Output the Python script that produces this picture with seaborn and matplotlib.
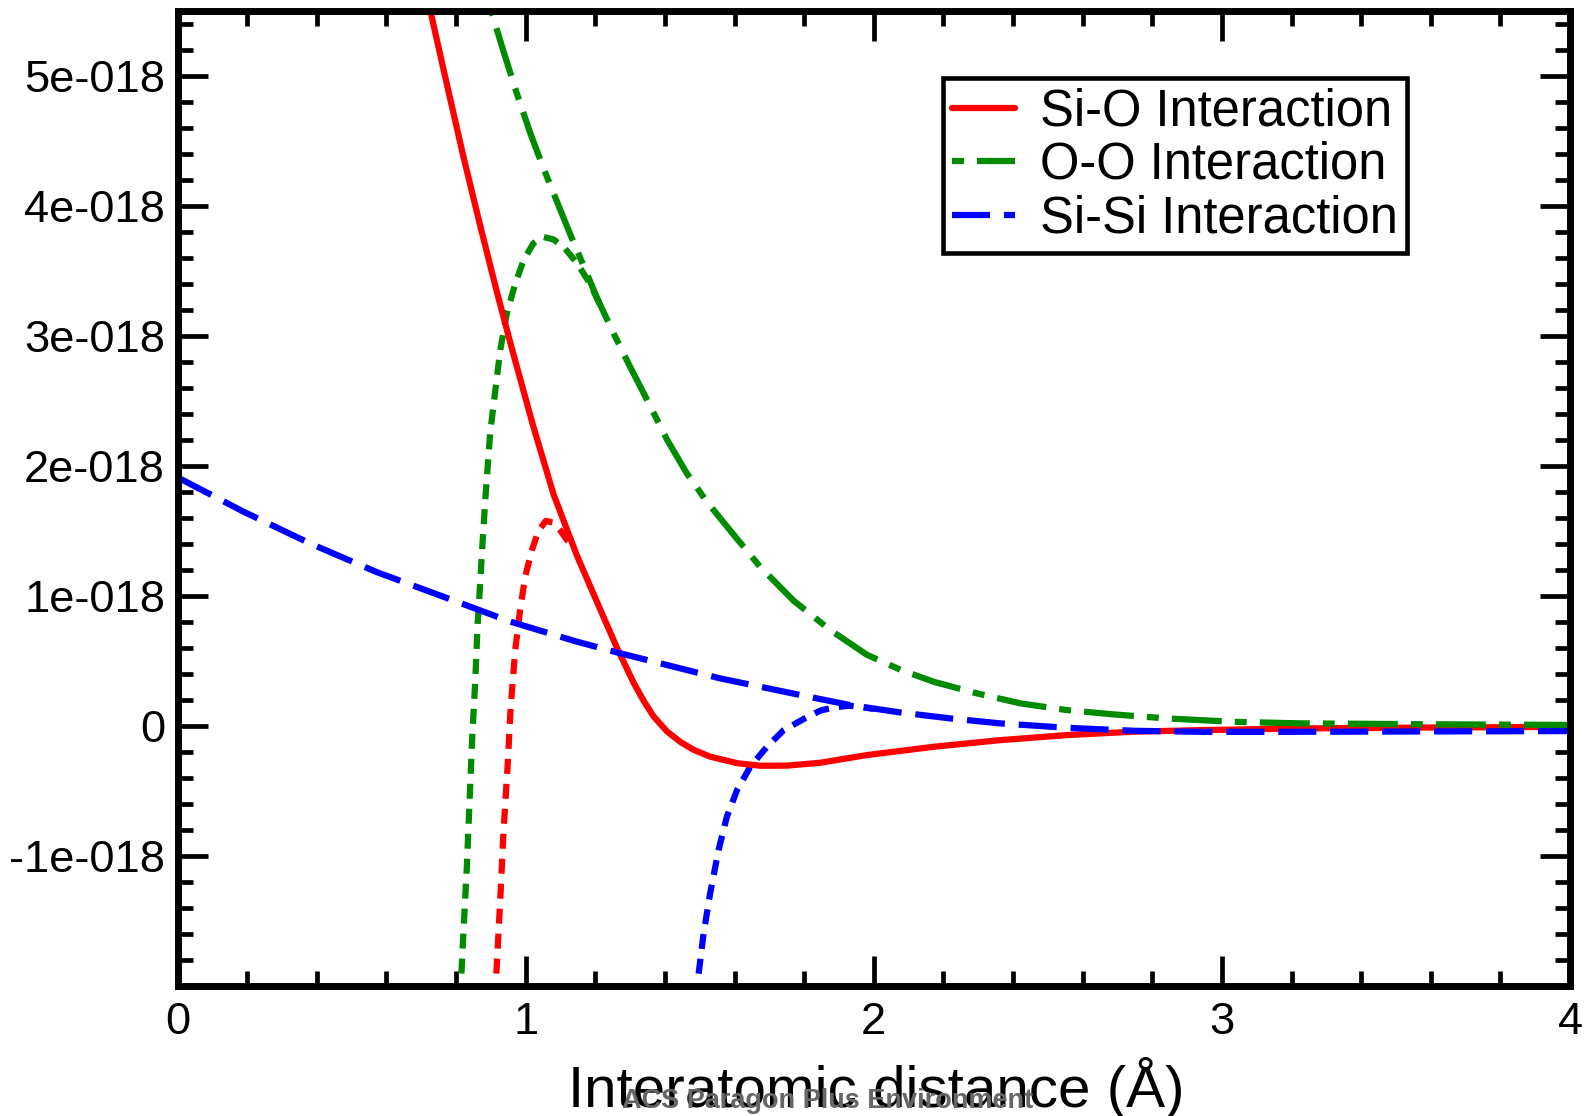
import numpy as np
import matplotlib
matplotlib.use("Agg")
import matplotlib.pyplot as plt
from matplotlib.ticker import FixedLocator, MultipleLocator, FuncFormatter
import seaborn as sns

# Pair interaction energies versus interatomic distance.
# Distances in Å, energies in units of 1e-18 J.
ENERGY_UNIT = 1e-18

si_o_r = [0.722, 0.774, 0.821, 0.869, 0.917, 0.96, 1.02, 1.08, 1.147, 1.205,
          1.262, 1.31, 1.339, 1.367, 1.406, 1.444, 1.482, 1.53, 1.607, 1.674,
          1.751, 1.846, 1.98, 2.172, 2.363, 2.555, 2.747, 2.938, 3.225, 3.6, 4.0]
si_o_e = [5.55, 4.93, 4.38, 3.85, 3.34, 2.905, 2.32, 1.78, 1.31, 0.95,
          0.60, 0.33, 0.19, 0.072, -0.045, -0.125, -0.186, -0.239, -0.289, -0.309,
          -0.308, -0.286, -0.227, -0.163, -0.112, -0.073, -0.047, -0.035, -0.022, -0.015, -0.01]

o_o_r = [0.895, 0.936, 0.975, 1.013, 1.051, 1.09, 1.128, 1.166, 1.205, 1.252,
         1.30, 1.348, 1.406, 1.463, 1.521, 1.597, 1.674, 1.77, 1.875, 1.98,
         2.076, 2.172, 2.296, 2.421, 2.555, 2.689, 2.842, 3.034, 3.225, 3.6, 4.0]
o_o_e = [5.55, 5.19, 4.86, 4.56, 4.29, 4.03, 3.78, 3.54, 3.29, 3.02,
         2.76, 2.51, 2.20, 1.94, 1.72, 1.47, 1.22, 0.96, 0.735, 0.545,
         0.43, 0.337, 0.248, 0.171, 0.119, 0.086, 0.055, 0.029, 0.017, 0.01, 0.005]

si_si_r = [0.0, 0.19, 0.382, 0.573, 0.765, 0.956, 1.148, 1.272, 1.559, 1.789,
           1.932, 2.076, 2.22, 2.363, 2.555, 2.747, 2.938, 3.178, 3.6, 4.0]
si_si_e = [1.91, 1.645, 1.40, 1.18, 0.99, 0.80, 0.645, 0.556, 0.363, 0.235,
           0.158, 0.101, 0.055, 0.017, -0.017, -0.04, -0.048, -0.048, -0.045, -0.042]

# Short-range branches that diverge at small distances (dotted)
si_o_short_r = [0.912, 0.927, 0.936, 0.948, 0.957, 0.970, 0.984, 0.999, 1.018, 1.037,
                1.058, 1.080, 1.100, 1.118, 1.14]
si_o_short_e = [-2.1, -1.34, -0.83, -0.32, 0.145, 0.58, 0.89, 1.15, 1.35, 1.50,
                1.575, 1.56, 1.50, 1.43, 1.36]

o_o_short_r = [0.812, 0.821, 0.831, 0.839, 0.847, 0.855, 0.862, 0.869, 0.876, 0.884,
               0.898, 0.912, 0.927, 0.946, 0.970, 0.994, 1.022, 1.050, 1.080, 1.110,
               1.147, 1.185, 1.22]
o_o_short_e = [-2.1, -1.60, -1.09, -0.57, -0.06, 0.33, 0.78, 1.08, 1.40, 1.74,
               2.25, 2.56, 2.89, 3.17, 3.40, 3.58, 3.71, 3.76, 3.74, 3.68,
               3.56, 3.40, 3.20]

si_si_short_r = [1.488, 1.511, 1.530, 1.554, 1.578, 1.607, 1.645, 1.693, 1.741, 1.798,
                 1.846, 1.885, 1.93, 1.97, 2.0]
si_si_short_e = [-2.1, -1.60, -1.29, -0.958, -0.70, -0.497, -0.317, -0.163, -0.035, 0.05,
                 0.115, 0.14, 0.153, 0.14, 0.128]

series_labels = ["Si-O Interaction", "O-O Interaction", "Si-Si Interaction"]
y_major = [-1, 0, 1, 2, 3, 4, 5]
x_major = [0, 1, 2, 3, 4]

RED, GREEN, BLUE = "#ff0000", "#008b00", "#0000ff"

sns.set_style("ticks")
plt.rcParams["font.family"] = ["Liberation Sans", "DejaVu Sans"]
plt.rcParams["lines.scale_dashes"] = False
plt.rcParams["lines.dash_capstyle"] = "butt"
for key in ("text.color", "axes.labelcolor", "xtick.color", "ytick.color",
            "axes.edgecolor"):
    plt.rcParams[key] = "black"

fig = plt.figure(figsize=(15.85, 11.16), dpi=100)
ax = fig.add_axes([0.1120, 0.1169, 0.8786, 0.8735])

LW = 4.5
DOTTED = (0, (10.8, 7.2))
DASHED = (0, (27.4, 10.0))
DASH_DOT = (45.4, (36.0, 9.4, 8.6, 9.4))


def draw(r, e, color, style, label=None):
    sns.lineplot(x=np.asarray(r), y=np.asarray(e) * ENERGY_UNIT, ax=ax,
                 color=color, linewidth=LW, linestyle=style, label=label,
                 estimator=None, sort=False)
    return ax.lines[-1]


draw(o_o_short_r, o_o_short_e, GREEN, DOTTED)
draw(si_o_short_r, si_o_short_e, RED, DOTTED)
draw(si_si_short_r, si_si_short_e, BLUE, DOTTED)
h_sio = draw(si_o_r, si_o_e, RED, "-", series_labels[0])
h_oo = draw(o_o_r, o_o_e, GREEN, DASH_DOT, series_labels[1])
h_sisi = draw(si_si_r, si_si_e, BLUE, DASHED, series_labels[2])

ax.set_xlim(0, 4)
ax.set_ylim(-2 * ENERGY_UNIT, 5.5 * ENERGY_UNIT)

ax.xaxis.set_major_locator(FixedLocator(x_major))
ax.xaxis.set_minor_locator(MultipleLocator(0.2))
ax.yaxis.set_major_locator(FixedLocator([v * ENERGY_UNIT for v in y_major]))
ax.yaxis.set_minor_locator(MultipleLocator(0.2 * ENERGY_UNIT))


def energy_fmt(v, pos):
    m = v / ENERGY_UNIT
    if abs(m) < 1e-9:
        return "0"
    return f"{m:.0f}e-018"


ax.yaxis.set_major_formatter(FuncFormatter(energy_fmt))
ax.xaxis.set_major_formatter(FuncFormatter(lambda v, p: f"{v:g}"))

ax.tick_params(which="both", direction="in", top=True, right=True,
               width=3.4, color="black", labelcolor="black")
ax.tick_params(which="major", length=21.6)
ax.tick_params(which="minor", length=10.8)
ax.tick_params(axis="x", which="major", pad=11.5, labelsize=32.6)
ax.tick_params(axis="y", which="major", pad=9, labelsize=32.6)
for sp in ax.spines.values():
    sp.set_linewidth(5)
    sp.set_color("black")

ax.set_ylabel("")
ax.set_xlabel("Interatomic distance (Å)", fontsize=42, color="black")
ax.xaxis.label.set_va("baseline")
ax.xaxis.set_label_coords(0.5016, -0.1246)

leg = ax.legend(handles=[h_sio, h_oo, h_sisi], labels=series_labels,
                loc="upper left", bbox_to_anchor=(0.5497, 0.9307),
                borderaxespad=0, fontsize=36.5, frameon=True, fancybox=False,
                framealpha=1, edgecolor="black", handlelength=1.24,
                handletextpad=0.49, borderpad=0.18, labelspacing=0.09)
leg.get_frame().set_linewidth(3.3)
for t in leg.get_texts():
    t.set_color("black")

fig.text(0.5224, 0.0072, "ACS Paragon Plus Environment", ha="center",
         va="baseline", fontsize=19.5, fontweight="bold", color="#666666")

fig.savefig("out.png", dpi=100)
